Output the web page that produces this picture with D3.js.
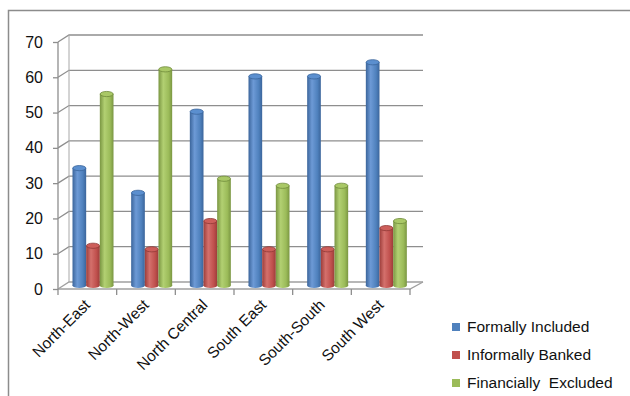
<!DOCTYPE html>
<html><head><meta charset="utf-8">
<script src="https://cdn.jsdelivr.net/npm/d3@7"></script>
<style>
body{margin:0;background:#fff;}
text{font-family:"Liberation Sans",Arial,sans-serif;fill:#111;}
</style></head>
<body><svg id="c" width="630" height="396"></svg>
<script>
const categories = ["North-East","North-West","North Central","South East","South-South","South West"];
const seriesNames = ["Formally Included","Informally Banked","Financially  Excluded"];
const formallyIncluded = [34,27,50,60,60,64];
const informallyBanked = [12,11,19,11,11,17];
const financiallyExcluded = [55,62,31,29,29,19];
const yTicks = [0,10,20,30,40,50,60,70];
const seriesValues = [formallyIncluded, informallyBanked, financiallyExcluded];
const colors = [
  {base:"#4F81BD", dark:"#3b659b", light:"#6d9ad6", top:"#5b8fcf", stroke:"#3a659a"},
  {base:"#C0504D", dark:"#9c3d3a", light:"#d4706c", top:"#cd5e5a", stroke:"#8f3936"},
  {base:"#9BBB59", dark:"#7a9642", light:"#b2d072", top:"#a9c866", stroke:"#6f8a3a"}
];

const svg = d3.select("#c");
const defs = svg.append("defs");
colors.forEach((c,i)=>{
  const g = defs.append("linearGradient").attr("id","g"+i).attr("x1","0").attr("x2","1").attr("y1","0").attr("y2","0");
  g.append("stop").attr("offset","0").attr("stop-color",c.dark);
  g.append("stop").attr("offset","0.35").attr("stop-color",c.light);
  g.append("stop").attr("offset","0.75").attr("stop-color",c.base);
  g.append("stop").attr("offset","1").attr("stop-color",c.dark);
});

// chart border
svg.append("path").attr("d","M8.5,396 V10.5 H630").attr("fill","none").attr("stroke","#8c8c8c").attr("stroke-width",1.5);

const dx = 11, dy = -7;
const y = d3.scaleLinear().domain([0,70]).range([289,42]);
const x = d3.scaleBand().domain(categories).range([58,410]).paddingInner(0).paddingOuter(0);
const xs = d3.scaleBand().domain(d3.range(3)).range([14.5,55.5]).padding(0);
const gridColor = "#8e8e8e";

yTicks.forEach(t=>{
  const yy = y(t);
  svg.append("path")
    .attr("d",`M58,${yy} L${58+dx},${yy+dy} L${410+dx+2},${yy+dy}`)
    .attr("fill","none").attr("stroke", t===0? "#a0a0a0": gridColor).attr("stroke-width",1.3);
});
svg.append("line").attr("x1",58+dx).attr("x2",58+dx).attr("y1",y(0)+dy).attr("y2",y(70)+dy).attr("stroke","#a8a8a8").attr("stroke-width",1);
svg.append("path").attr("d",`M58,${y(0)} L410,${y(0)} L${410+dx+2},${y(0)+dy}`).attr("fill","none").attr("stroke","#a0a0a0").attr("stroke-width",1.3);

const yAxis = d3.axisLeft(y).tickValues(yTicks).tickSize(5).tickPadding(10);
const ga = svg.append("g").attr("transform","translate(58,0)").call(yAxis);
ga.select(".domain").attr("stroke","#8e8e8e").attr("stroke-width",1.3).attr("d","M0,"+y(70)+"V"+y(0));
ga.selectAll(".tick line").attr("stroke","#8e8e8e").attr("stroke-width",1.3);
ga.selectAll(".tick text").style("font-size","16px").attr("fill","#111").style("font-family","'Liberation Sans',Arial,sans-serif");

const gx = svg.append("g").attr("transform",`translate(0,${y(0)})`);
const tickXs = categories.map(c=>x(c)).concat([410]);
gx.selectAll("line.t").data(tickXs).join("line").attr("x1",d=>d).attr("x2",d=>d).attr("y1",0).attr("y2",6).attr("stroke","#8e8e8e").attr("stroke-width",1.3);
gx.selectAll("text").data(categories).join("text")
  .attr("transform",d=>`translate(${x(d)+x.bandwidth()/2},${13}) rotate(-45)`)
  .attr("text-anchor","end").attr("dy","0.35em")
  .style("font-size","15.5px").text(d=>d);

const rx = xs.bandwidth()/2, ry = 2.6;
const barsG = svg.append("g");
categories.forEach((cat,ci)=>{
  seriesValues.forEach((vals,si)=>{
    const v = vals[ci];
    const cx = x(cat) + xs(si) + rx;
    const yTop = y(v) + dy/2 + ry;
    const yBot = y(0) + dy/2;
    const g = barsG.append("g");
    g.append("ellipse").attr("cx",cx).attr("cy",yBot).attr("rx",rx).attr("ry",ry).attr("fill","url(#g"+si+")");
    g.append("rect").attr("x",cx-rx).attr("y",yTop).attr("width",rx*2).attr("height",yBot-yTop).attr("fill","url(#g"+si+")");
    g.append("ellipse").attr("cx",cx).attr("cy",yTop).attr("rx",rx-0.3).attr("ry",ry).attr("fill",colors[si].top).attr("stroke",colors[si].stroke).attr("stroke-width",0.8);
  });
});

const lg = svg.append("g");
seriesNames.forEach((n,i)=>{
  const yy = 327 + i*28;
  lg.append("rect").attr("x",452).attr("y",yy-4).attr("width",8).attr("height",8).attr("fill",colors[i].base);
  lg.append("text").attr("x",467).attr("y",yy).attr("dy","0.35em").style("font-size","15.5px").style("white-space","pre").attr("xml:space","preserve").text(n);
});
</script></body></html>
